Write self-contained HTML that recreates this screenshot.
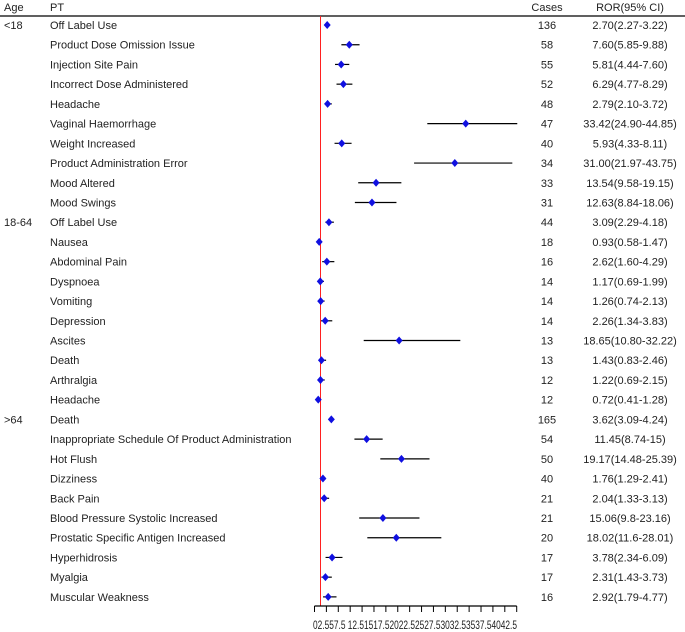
<!DOCTYPE html>
<html><head><meta charset="utf-8">
<style>
body{margin:0;background:#fff;}
svg{display:block;font-family:"Liberation Sans",Arial,sans-serif;font-size:11px;fill:#222;}
</style></head><body>
<svg id="chart" width="685" height="632">
<text x="4" y="11">Age</text>
<text x="50" y="11">PT</text>
<text x="547" y="11" text-anchor="middle">Cases</text>
<text x="630" y="11" text-anchor="middle">ROR(95% CI)</text>
<line x1="0" y1="16" x2="685" y2="16" stroke="#000" stroke-width="1.2"/>
<g id="rows"></g>
<g id="axis"></g>
</svg>
<script>
const ages=["<18","","","","","","","","","","18-64","","","","","","","","","",">64","","","","","","","","",""];
const terms=["Off Label Use","Product Dose Omission Issue","Injection Site Pain","Incorrect Dose Administered","Headache","Vaginal Haemorrhage","Weight Increased","Product Administration Error","Mood Altered","Mood Swings","Off Label Use","Nausea","Abdominal Pain","Dyspnoea","Vomiting","Depression","Ascites","Death","Arthralgia","Headache","Death","Inappropriate Schedule Of Product Administration","Hot Flush","Dizziness","Back Pain","Blood Pressure Systolic Increased","Prostatic Specific Antigen Increased","Hyperhidrosis","Myalgia","Muscular Weakness"];
const cases=[136,58,55,52,48,47,40,34,33,31,44,18,16,14,14,14,13,13,12,12,165,54,50,40,21,21,20,17,17,16];
const ror=[2.70,7.60,5.81,6.29,2.79,33.42,5.93,31.00,13.54,12.63,3.09,0.93,2.62,1.17,1.26,2.26,18.65,1.43,1.22,0.72,3.62,11.45,19.17,1.76,2.04,15.06,18.02,3.78,2.31,2.92];
const lower=[2.27,5.85,4.44,4.77,2.10,24.90,4.33,21.97,9.58,8.84,2.29,0.58,1.60,0.69,0.74,1.34,10.80,0.83,0.69,0.41,3.09,8.74,14.48,1.29,1.33,9.8,11.6,2.34,1.43,1.79];
const upper=[3.22,9.88,7.60,8.29,3.72,44.85,8.11,43.75,19.15,18.06,4.18,1.47,4.29,1.99,2.13,3.83,32.22,2.46,2.15,1.28,4.24,15,25.39,2.41,3.13,23.16,28.01,6.09,3.73,4.77];
const rorLabels=["2.70(2.27-3.22)","7.60(5.85-9.88)","5.81(4.44-7.60)","6.29(4.77-8.29)","2.79(2.10-3.72)","33.42(24.90-44.85)","5.93(4.33-8.11)","31.00(21.97-43.75)","13.54(9.58-19.15)","12.63(8.84-18.06)","3.09(2.29-4.18)","0.93(0.58-1.47)","2.62(1.60-4.29)","1.17(0.69-1.99)","1.26(0.74-2.13)","2.26(1.34-3.83)","18.65(10.80-32.22)","1.43(0.83-2.46)","1.22(0.69-2.15)","0.72(0.41-1.28)","3.62(3.09-4.24)","11.45(8.74-15)","19.17(14.48-25.39)","1.76(1.29-2.41)","2.04(1.33-3.13)","15.06(9.8-23.16)","18.02(11.6-28.01)","3.78(2.34-6.09)","2.31(1.43-3.73)","2.92(1.79-4.77)"];
const tickLabels=["0","2.5","5","7.5"," ","12.5","15","17.5","20","22.5","25","27.5","30","32.5","35","37.5","40","42.5"];
const refValue=1;

const NS="http://www.w3.org/2000/svg";
function mk(tag,attrs,parent,text){const e=document.createElementNS(NS,tag);for(const k in attrs)e.setAttribute(k,attrs[k]);if(text!==undefined)e.textContent=text;parent.appendChild(e);return e;}
const xScale=v=>315+v*4.51;
const yScale=i=>25+i*19.72;
const rows=document.getElementById('rows');
const axis=document.getElementById('axis');

const rx=Math.round(xScale(refValue))+0.5;
const ref=mk('line',{x1:rx,x2:rx,y1:16,y2:606,stroke:'#ff2020','stroke-width':1},rows);



terms.forEach((t,i)=>{
  const y=yScale(i);
  if(ages[i]){const a=mk('text',{x:4,y:y+4},rows,ages[i]);
    
    }
  const p=mk('text',{x:50,y:y+4},rows,t);
  
  
  const c=mk('text',{x:547,y:y+4,'text-anchor':'middle'},rows,cases[i]);
  
  
  const r=mk('text',{x:630,y:y+4,'text-anchor':'middle'},rows,rorLabels[i]);
  
  
  const ci=mk('line',{x1:xScale(lower[i]),x2:xScale(upper[i]),y1:y,y2:y,stroke:'#000','stroke-width':1.2},rows);
  
  
  const x=xScale(ror[i]);
  const d=mk('polygon',{points:`${x},${y-4} ${x+3.5},${y} ${x},${y+4} ${x-3.5},${y}`,fill:'#1010e0'},rows);
  
  
});

const ax=mk('line',{x1:314.5,x2:516.7,y1:606,y2:606,stroke:'#000','stroke-width':1.2},axis);


const step=(516.7-314.5)/(tickLabels.length-1);
tickLabels.forEach((l,i)=>{
  const x=314.5+i*step;
  const tk=mk('line',{x1:x,x2:x,y1:606,y2:612,stroke:'#000','stroke-width':1},axis);
  
  
});
const tl=mk('text',{x:313,y:629,textLength:204,lengthAdjust:'spacingAndGlyphs','font-size':12},axis,tickLabels.join(''));


</script>
</body></html>
